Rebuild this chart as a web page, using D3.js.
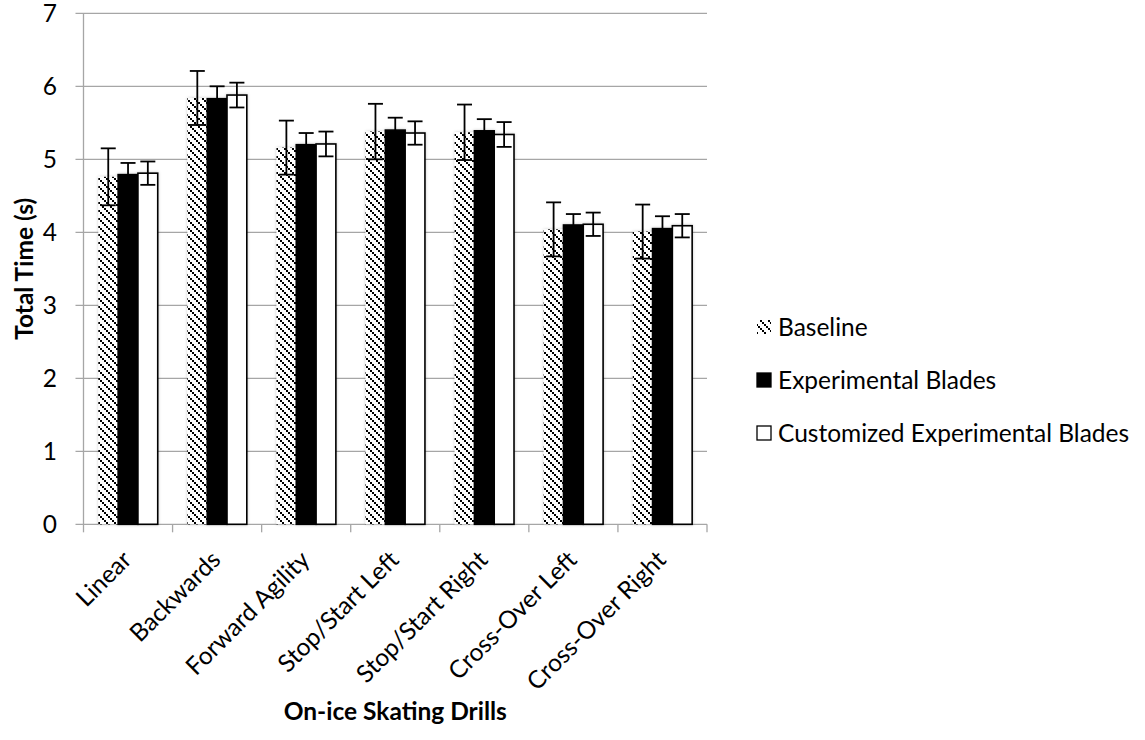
<!DOCTYPE html>
<html><head><meta charset="utf-8">
<script src="https://cdn.jsdelivr.net/npm/d3@7"></script>
<style>body{margin:0;background:#fff}svg{display:block}text{font-family:Lato,"Open Sans",sans-serif;fill:#000}</style>
</head><body><svg id="c" width="1145" height="740"></svg>
<script>
const categories = ["Linear","Backwards","Forward Agility","Stop/Start Left","Stop/Start Right","Cross-Over Left","Cross-Over Right"];
const seriesNames = ["Baseline","Experimental Blades","Customized Experimental Blades"];
const baseline = [4.76, 5.84, 5.16, 5.38, 5.37, 4.04, 4.01];
const baselineErr = [0.39, 0.37, 0.37, 0.38, 0.38, 0.37, 0.37];
const experimental = [4.79, 5.83, 5.20, 5.40, 5.39, 4.10, 4.05];
const experimentalErr = [0.16, 0.17, 0.16, 0.17, 0.16, 0.15, 0.17];
const customized = [4.81, 5.88, 5.21, 5.36, 5.34, 4.11, 4.09];
const customizedErr = [0.16, 0.17, 0.17, 0.16, 0.17, 0.16, 0.16];
const yTicks = [0,1,2,3,4,5,6,7];
const xTitle = "On-ice Skating Drills";
const yTitle = "Total Time (s)";

const svg = d3.select("#c");
const L = 83.5, R = 707, T = 13.3, B = 524.3;
const FS = 24.5;

const defs = svg.append("defs");
const pat = defs.append("pattern").attr("id","hatch").attr("patternUnits","userSpaceOnUse")
  .attr("width",8).attr("height",8);
pat.append("rect").attr("width",8).attr("height",8).attr("fill","#fff");
[0,2,4,6].forEach(i=>pat.append("rect").attr("x",i).attr("y",i).attr("width",2).attr("height",2).attr("fill","#000"));
const flt = defs.append("filter").attr("id","sh").attr("x","-30%").attr("y","-5%").attr("width","160%").attr("height","110%");
flt.append("feDropShadow").attr("dx",0).attr("dy",0).attr("stdDeviation",1.6)
  .attr("flood-color","#000").attr("flood-opacity",0.22);

const x0 = d3.scaleBand().domain(categories).range([L,R]).paddingInner(0).paddingOuter(0);
// Excel gap width 150%: bar width = band/(3+1.5)
const bw = x0.bandwidth()/4.5;
const x1 = d3.scaleBand().domain(seriesNames).range([x0.bandwidth()/2 - 1.5*bw, x0.bandwidth()/2 + 1.5*bw]);
const y = d3.scaleLinear().domain([0,7]).range([B,T]);

const grid = "#a6a6a6";
svg.append("g").selectAll("line").data(yTicks).join("line")
  .attr("x1",L-8).attr("x2",R).attr("y1",d=>y(d)).attr("y2",d=>y(d))
  .attr("stroke",grid).attr("stroke-width",1.3);
svg.append("line").attr("x1",L).attr("x2",L).attr("y1",T).attr("y2",B).attr("stroke",grid).attr("stroke-width",1.3);
const bounds = categories.map(c=>x0(c)).concat([R]);
svg.append("g").selectAll("line").data(bounds).join("line")
  .attr("x1",d=>d).attr("x2",d=>d).attr("y1",B).attr("y2",B+8).attr("stroke",grid).attr("stroke-width",1.3);
svg.append("g").selectAll("text").data(yTicks).join("text")
  .attr("x",57).attr("y",d=>y(d)).attr("dy","0.36em").attr("text-anchor","end")
  .style("font-size",FS+"px").text(d=>d);

const series = [
  {name:seriesNames[0], vals:baseline, err:baselineErr, fill:"url(#hatch)", stroke:"none"},
  {name:seriesNames[1], vals:experimental, err:experimentalErr, fill:"#000", stroke:"#000"},
  {name:seriesNames[2], vals:customized, err:customizedErr, fill:"#fff", stroke:"#000"}
];
const gBars = svg.append("g").attr("filter","url(#sh)");
series.forEach(s=>{
  gBars.append("g").selectAll("rect").data(categories).join("rect")
    .attr("x",c=>x0(c)+x1(s.name)).attr("width",x1.bandwidth())
    .attr("y",(c,i)=>y(s.vals[i])).attr("height",(c,i)=>B-y(s.vals[i]))
    .attr("fill",s.fill).attr("stroke",s.stroke).attr("stroke-width",s.stroke==="none"?0:1.6);
});
series.forEach(s=>{
  const g = svg.append("g").attr("stroke","#000").attr("stroke-width",1.8);
  categories.forEach((c,i)=>{
    const cx = x0(c)+x1(s.name)+x1.bandwidth()/2;
    const hi = y(s.vals[i]+s.err[i]), lo = y(s.vals[i]-s.err[i]);
    g.append("line").attr("x1",cx).attr("x2",cx).attr("y1",hi).attr("y2",lo);
    g.append("line").attr("x1",cx-7.5).attr("x2",cx+7.5).attr("y1",hi).attr("y2",hi);
    g.append("line").attr("x1",cx-7.5).attr("x2",cx+7.5).attr("y1",lo).attr("y2",lo);
  });
});
svg.append("g").selectAll("text").data(categories).join("text")
  .attr("text-anchor","end")
  .attr("transform",c=>`translate(${x0(c)+x0.bandwidth()/2+5},${B+37}) rotate(-45)`)
  .style("font-size",FS+"px").text(c=>c);
svg.append("text").attr("x",(L+R)/2).attr("y",720).attr("text-anchor","middle")
  .style("font-size",FS+"px").style("font-weight","bold").text(xTitle);
svg.append("text").attr("transform",`translate(33,${(T+B)/2}) rotate(-90)`).attr("text-anchor","middle")
  .style("font-size",FS+"px").style("font-weight","bold").text(yTitle);
const legY = [327,380,433];
const lg = svg.append("g");
series.forEach((s,i)=>{
  lg.append("rect").attr("x",757).attr("y",legY[i]-7).attr("width",14).attr("height",14)
    .attr("fill",s.fill).attr("stroke",s.stroke).attr("stroke-width",s.stroke==="none"?0:1.3);
  lg.append("text").attr("x",778).attr("y",legY[i]).attr("dy","0.36em")
    .style("font-size",FS+"px").text(s.name);
});
</script></body></html>
